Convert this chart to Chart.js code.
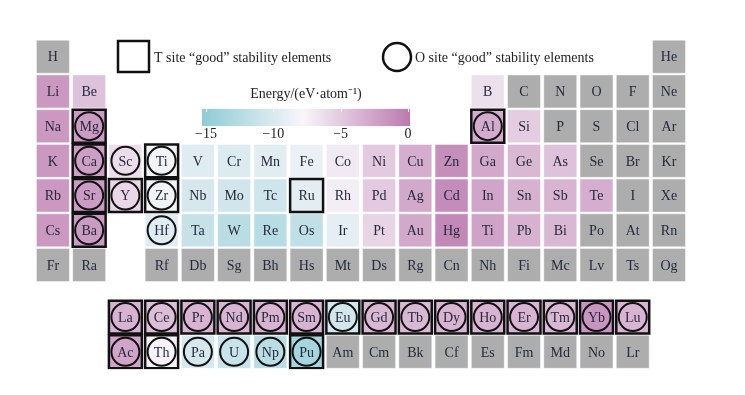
<!DOCTYPE html>
<html>
<head>
<meta charset="utf-8">
<script src="https://cdn.jsdelivr.net/npm/chart.js@4"></script>
<style>
  body { margin: 0; background: #fff; }
  #wrap { position: relative; width: 745px; height: 395px; }
  #colorbar { position: absolute; left: 188px; top: 82px; }
</style>
</head>
<body>
<div id="wrap">
  <canvas id="table" width="745" height="395"></canvas>
  <canvas id="colorbar" width="236" height="61"></canvas>
</div>
<script>
const N = null;

// periodic table layout, one row per line (f-block rows at the bottom)
const symbols = [
  ['H', '', '', '', '', '', '', '', '', '', '', '', '', '', '', '', '', 'He'],
  ['Li', 'Be', '', '', '', '', '', '', '', '', '', '', 'B', 'C', 'N', 'O', 'F', 'Ne'],
  ['Na', 'Mg', '', '', '', '', '', '', '', '', '', '', 'Al', 'Si', 'P', 'S', 'Cl', 'Ar'],
  ['K', 'Ca', 'Sc', 'Ti', 'V', 'Cr', 'Mn', 'Fe', 'Co', 'Ni', 'Cu', 'Zn', 'Ga', 'Ge', 'As', 'Se', 'Br', 'Kr'],
  ['Rb', 'Sr', 'Y', 'Zr', 'Nb', 'Mo', 'Tc', 'Ru', 'Rh', 'Pd', 'Ag', 'Cd', 'In', 'Sn', 'Sb', 'Te', 'I', 'Xe'],
  ['Cs', 'Ba', '', 'Hf', 'Ta', 'W', 'Re', 'Os', 'Ir', 'Pt', 'Au', 'Hg', 'Tl', 'Pb', 'Bi', 'Po', 'At', 'Rn'],
  ['Fr', 'Ra', '', 'Rf', 'Db', 'Sg', 'Bh', 'Hs', 'Mt', 'Ds', 'Rg', 'Cn', 'Nh', 'Fl', 'Mc', 'Lv', 'Ts', 'Og'],
  ['', '', 'La', 'Ce', 'Pr', 'Nd', 'Pm', 'Sm', 'Eu', 'Gd', 'Tb', 'Dy', 'Ho', 'Er', 'Tm', 'Yb', 'Lu', ''],
  ['', '', 'Ac', 'Th', 'Pa', 'U', 'Np', 'Pu', 'Am', 'Cm', 'Bk', 'Cf', 'Es', 'Fm', 'Md', 'No', 'Lr', '']
];
// labels as printed in the figure
const shownAs = { Tl: 'Ti', Fl: 'Fi' };

// energy, eV/atom (null = no data, grey)
const energy = [
  [N, N, N, N, N, N, N, N, N, N, N, N, N, N, N, N, N, N],
  [-1.8, -4.4, N, N, N, N, N, N, N, N, N, N, -6.4, N, N, N, N, N],
  [-1.8, -2.0, N, N, N, N, N, N, N, N, N, N, -3.0, -5.2, N, N, N, N],
  [-1.8, -2.2, -6.2, -8.3, -9.6, -9.8, -9.4, -8.8, -7.0, -5.0, -3.2, -1.2, -2.8, -3.8, -4.4, N, N, N],
  [-1.8, -2.0, -5.8, -8.4, -10.2, -10.6, -10.8, -9.3, -7.2, -5.0, -2.8, -1.0, -2.6, -3.4, -3.6, -3.2, N, N],
  [-1.8, -2.0, N, -9.6, -11.4, -12.2, -12.4, -11.8, -9.2, -5.6, -2.8, -0.8, -2.4, -3.4, -3.8, N, N, N],
  [N, N, N, N, N, N, N, N, N, N, N, N, N, N, N, N, N, N],
  [N, N, -3.5, -4.2, -3.6, -3.6, -3.6, -3.6, -10.5, -3.8, -3.8, -3.6, -3.6, -3.6, -3.8, -1.6, -3.6, N],
  [N, N, -2.6, -7.6, -10.2, -11.2, -12.2, -13.6, N, N, N, N, N, N, N, N, N, N]
];
const rowPos = [1, 2, 3, 4, 5, 6, 7, 8.5, 9.5];

const lanthanides = ['La', 'Ce', 'Pr', 'Nd', 'Pm', 'Sm', 'Eu', 'Gd', 'Tb', 'Dy', 'Ho', 'Er', 'Tm', 'Yb', 'Lu'];
const tSite = ['Mg', 'Ca', 'Sr', 'Ba', 'Y', 'Ti', 'Zr', 'Ru', 'Al', ...lanthanides, 'Ac', 'Th', 'Pu'];
const oSite = ['Mg', 'Ca', 'Sr', 'Ba', 'Sc', 'Y', 'Ti', 'Zr', 'Hf', 'Al', ...lanthanides, 'Ac', 'Th', 'Pa', 'U', 'Np', 'Pu'];

// colour scale
const scaleMin = -15.3, scaleMax = 0.15;
const barTicks = [-15, -10, -5, 0];
const cmapStops = [
  [-15.3, [143, 203, 212]],
  [-7.8, [248, 246, 250]],
  [0.15, [187, 122, 175]]
];
const noDataColor = '#adadad';
const textColor = '#262a3c';
const serif = '"Liberation Serif", "Times New Roman", serif';

function colorFor(v) {
  if (v === null) return noDataColor;
  for (let i = 1; i < cmapStops.length; i++) {
    const [v0, c0] = cmapStops[i - 1];
    const [v1, c1] = cmapStops[i];
    if (v <= v1 || i === cmapStops.length - 1) {
      let t = (v - v0) / (v1 - v0);
      t = Math.max(0, Math.min(1, t));
      const c = c0.map((a, k) => Math.round(a + (c1[k] - a) * t));
      return `rgb(${c[0]},${c[1]},${c[2]})`;
    }
  }
}

// build points
const cells = [];
symbols.forEach((row, r) => {
  row.forEach((s, c) => {
    if (!s) return;
    cells.push({ x: c + 1, y: rowPos[r], sym: s, v: energy[r][c] });
  });
});
const tPoints = cells.filter(p => tSite.includes(p.sym));
const oPoints = cells.filter(p => oSite.includes(p.sym));

// cell labels + legend
const tablePlugin = {
  id: 'tableText',
  afterDatasetsDraw(chart) {
    const ctx = chart.ctx;
    const meta = chart.getDatasetMeta(2);
    ctx.save();
    ctx.fillStyle = textColor;
    ctx.font = '14px ' + serif;
    ctx.textAlign = 'center';
    ctx.textBaseline = 'middle';
    meta.data.forEach((el, i) => {
      const p = cells[i];
      ctx.fillText(shownAs[p.sym] || p.sym, el.x, el.y + 1);
    });

    // legend
    ctx.strokeStyle = '#111';
    ctx.lineWidth = 2.5;
    ctx.strokeRect(118, 41, 31, 31);
    ctx.beginPath();
    ctx.arc(397, 57, 14, 0, Math.PI * 2);
    ctx.stroke();
    ctx.fillStyle = '#222';
    ctx.textAlign = 'left';
    ctx.fillText('T site \u201cgood\u201d stability elements', 154, 58);
    ctx.fillText('O site \u201cgood\u201d stability elements', 415, 58);
    ctx.restore();
  }
};

new Chart(document.getElementById('table'), {
  type: 'scatter',
  data: {
    datasets: [
      {
        label: 'T site',
        data: tPoints,
        pointStyle: 'rect',
        pointRadius: 23.3,
        backgroundColor: 'rgba(0,0,0,0)',
        borderColor: '#111',
        borderWidth: 2.5
      },
      {
        label: 'O site',
        data: oPoints,
        pointStyle: 'circle',
        pointRadius: 14,
        backgroundColor: 'rgba(0,0,0,0)',
        borderColor: '#111',
        borderWidth: 2
      },
      {
        label: 'Energy',
        data: cells,
        pointStyle: 'rect',
        pointRadius: 23.3,
        backgroundColor: ctx => colorFor(ctx.raw ? ctx.raw.v : null),
        borderColor: 'rgba(255,255,255,0.45)',
        borderWidth: 1
      }
    ]
  },
  options: {
    responsive: false,
    animation: false,
    events: [],
    layout: { padding: { left: 34.8, right: 57.9, top: 39.35, bottom: 10.8 } },
    scales: {
      x: { type: 'linear', min: 0.5, max: 18.5, display: false },
      y: { type: 'linear', min: 0.5, max: 10, reverse: true, display: false }
    },
    plugins: {
      legend: { display: false },
      tooltip: { enabled: false }
    }
  },
  plugins: [tablePlugin]
});

// colour bar
const barTickPlugin = {
  id: 'barTicks',
  afterDatasetsDraw(chart) {
    const ctx = chart.ctx;
    const x = chart.scales.x;
    const top = chart.chartArea.top;
    ctx.save();
    ctx.strokeStyle = 'rgba(255,255,255,0.9)';
    ctx.lineWidth = 1;
    barTicks.forEach(v => {
      const px = Math.round(x.getPixelForValue(v)) + 0.5;
      ctx.beginPath();
      ctx.moveTo(px, top);
      ctx.lineTo(px, top + 3);
      ctx.stroke();
    });
    ctx.restore();
  }
};

new Chart(document.getElementById('colorbar'), {
  type: 'bar',
  data: {
    labels: [''],
    datasets: [{
      data: [[scaleMin, scaleMax]],
      barPercentage: 1,
      categoryPercentage: 1,
      borderWidth: 0,
      backgroundColor: ctx => {
        const chart = ctx.chart;
        if (!chart.chartArea) return null;
        const xs = chart.scales.x;
        const g = chart.ctx.createLinearGradient(xs.getPixelForValue(scaleMin), 0, xs.getPixelForValue(scaleMax), 0);
        cmapStops.forEach(([v, c]) => {
          g.addColorStop((v - scaleMin) / (scaleMax - scaleMin), `rgb(${c[0]},${c[1]},${c[2]})`);
        });
        return g;
      }
    }]
  },
  options: {
    indexAxis: 'y',
    responsive: false,
    animation: false,
    events: [],
    layout: { padding: { left: 14, right: 14 } },
    scales: {
      x: {
        type: 'linear',
        min: scaleMin,
        max: scaleMax,
        afterBuildTicks: axis => { axis.ticks = barTicks.map(v => ({ value: v })); },
        ticks: {
          color: '#222',
          padding: 0,
          maxRotation: 0,
          font: { family: serif, size: 14 },
          callback: v => String(v).replace('-', '\u2212')
        },
        grid: { display: false, drawTicks: false, tickLength: 0 },
        border: { display: false }
      },
      y: { display: false }
    },
    plugins: {
      legend: { display: false },
      tooltip: { enabled: false },
      title: {
        display: true,
        text: 'Energy/(eV\u00b7atom\u207b\u00b9)',
        color: '#222',
        font: { family: serif, size: 14, weight: 'normal' },
        padding: { top: 4, bottom: 6 }
      }
    }
  },
  plugins: [barTickPlugin]
});
</script>
</body>
</html>
